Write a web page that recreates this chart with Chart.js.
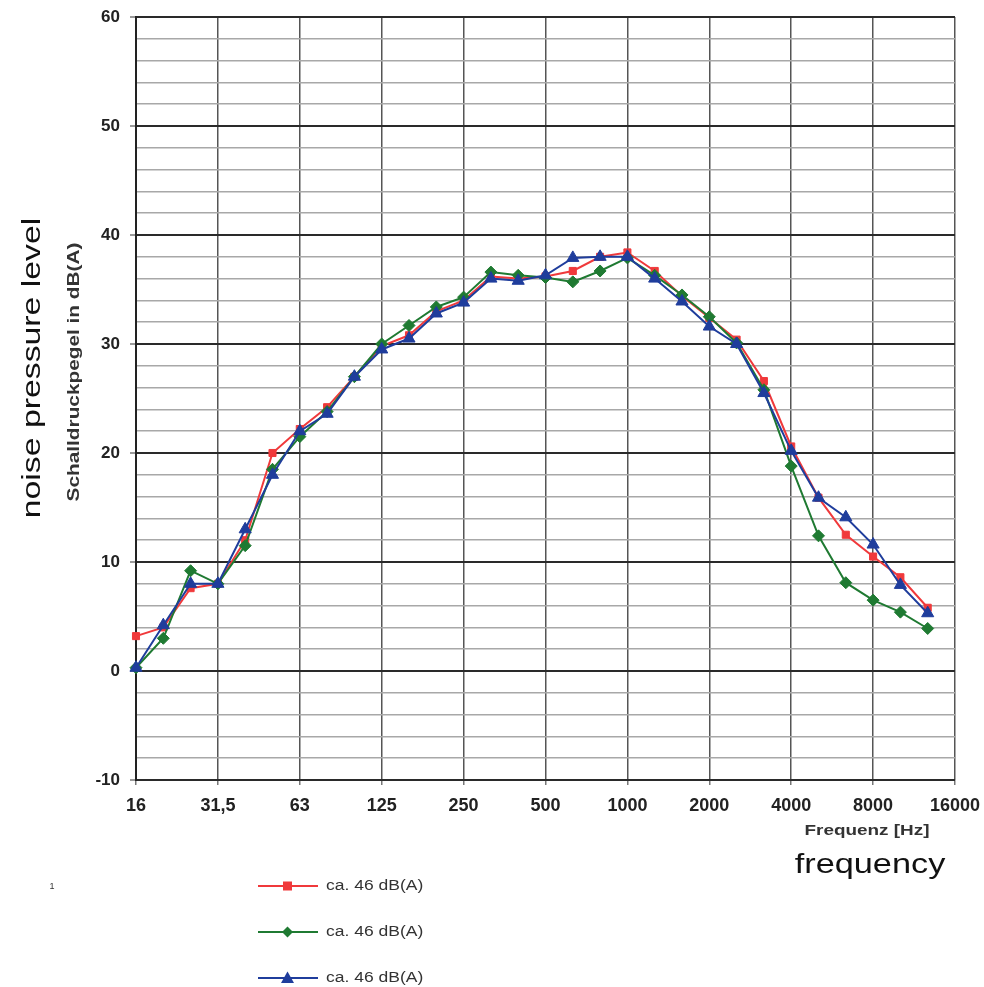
<!DOCTYPE html>
<html>
<head>
<meta charset="utf-8">
<script src="https://cdn.jsdelivr.net/npm/chart.js@4.4.1/dist/chart.umd.min.js"></script>
<style>
  html, body { margin: 0; padding: 0; background: #fff; }
  #wrap { position: relative; width: 984px; height: 987px; font-family: "Liberation Sans", Arial, sans-serif; }
  #chart { position: absolute; left: 0; top: 0; }
  .lbl { position: absolute; white-space: nowrap; color: #222; transform-origin: center center; }
  .leg { position: absolute; left: 258px; width: 180px; height: 20px; }
  .leg svg { position: absolute; left: 0; top: 0; }
  .leg span { position: absolute; left: 68px; top: 1px; font-size: 14px; color: #333; transform: scaleX(1.25); transform-origin: left center; }
</style>
</head>
<body>
<div id="wrap">
  <canvas id="chart" width="984" height="987"></canvas>

  <div class="lbl" style="left:31px; top:368px; font-size:26px; color:#111; transform:translate(-50%,-50%) rotate(-90deg) scaleX(1.3);">noise pressure level</div>
  <div class="lbl" style="left:74px; top:372px; font-size:16px; font-weight:bold; color:#333; transform:translate(-50%,-50%) rotate(-90deg) scaleX(1.3);">Schalldruckpegel in dB(A)</div>
  <div class="lbl" style="left:867px; top:830px; font-size:14px; font-weight:bold; color:#333; transform:translate(-50%,-50%) scaleX(1.35);">Frequenz [Hz]</div>
  <div class="lbl" style="left:870px; top:864px; font-size:27px; color:#111; transform:translate(-50%,-50%) scaleX(1.27);">frequency</div>
  <div class="lbl" style="left:52px; top:886px; font-size:9px; color:#333; transform:translate(-50%,-50%);">1</div>

  <div class="leg" style="top:876px;">
    <svg width="62" height="20"><line x1="0" y1="10" x2="60" y2="10" stroke="#f0393b" stroke-width="2"/><rect x="25" y="5.5" width="9" height="9" fill="#f0393b"/></svg>
    <span>ca. 46 dB(A)</span>
  </div>
  <div class="leg" style="top:922px;">
    <svg width="62" height="20"><line x1="0" y1="10" x2="60" y2="10" stroke="#1f7a32" stroke-width="2"/><polygon points="29.5,4.5 35,10 29.5,15.5 24,10" fill="#1f7a32"/></svg>
    <span>ca. 46 dB(A)</span>
  </div>
  <div class="leg" style="top:968px;">
    <svg width="62" height="20"><line x1="0" y1="10" x2="60" y2="10" stroke="#1f3d9c" stroke-width="2"/><polygon points="29.5,3.5 36,15 23,15" fill="#1f3d9c"/></svg>
    <span>ca. 46 dB(A)</span>
  </div>
</div>

<script>
// third-octave bands, 16 Hz .. 16000 Hz
const bands = ["16","20","25","31,5","40","50","63","80","100","125","160","200","250","315","400","500","630","800",
               "1000","1250","1600","2000","2500","3150","4000","5000","6300","8000","10000","12500","16000"];
// labels shown at octave positions (every third band)
const octaveLabels = ["16","31,5","63","125","250","500","1000","2000","4000","8000","16000"];

// (dB(A))
const redValues   = [3.2, 4.0, 7.6, 8.0, 12.0, 20.0, 22.2, 24.2, 27.0, 29.8, 30.8, 33.0, 34.0, 36.2, 36.0, 36.2, 36.7, 38.0,
                     38.4, 36.7, 34.4, 32.4, 30.4, 26.6, 20.6, 15.9, 12.5, 10.5, 8.6, 5.8, null];
const greenValues = [0.3, 3.0, 9.2, 8.0, 11.5, 18.5, 21.5, 23.8, 27.0, 30.0, 31.7, 33.4, 34.3, 36.6, 36.3, 36.1, 35.7, 36.7,
                     37.9, 36.3, 34.5, 32.5, 30.1, 25.8, 18.8, 12.4, 8.1, 6.5, 5.4, 3.9, null];
const blueValues  = [0.3, 4.2, 8.0, 8.0, 13.0, 18.0, 22.0, 23.6, 27.0, 29.5, 30.5, 32.8, 33.8, 36.0, 35.8, 36.3, 37.9, 38.0,
                     38.0, 36.0, 33.9, 31.6, 30.0, 25.5, 20.2, 15.9, 14.1, 11.6, 7.9, 5.3, null];

const seriesNames = ["ca. 46 dB(A)", "ca. 46 dB(A)", "ca. 46 dB(A)"];

const ctx = document.getElementById("chart").getContext("2d");

new Chart(ctx, {
    type: "line",
    data: {
        labels: bands,
        datasets: [
            {
                label: seriesNames[0],
                data: redValues,
                borderColor: "#f0393b",
                backgroundColor: "#f0393b",
                borderWidth: 2,
                pointStyle: "rect",
                pointRadius: 5,
                pointBorderWidth: 1,
                tension: 0,
                order: 2
            },
            {
                label: seriesNames[1],
                data: greenValues,
                borderColor: "#1f7a32",
                backgroundColor: "#1f7a32",
                borderWidth: 2,
                pointStyle: "rectRot",
                pointRadius: 6,
                pointBorderWidth: 1,
                tension: 0,
                order: 1
            },
            {
                label: seriesNames[2],
                data: blueValues,
                borderColor: "#1f3d9c",
                backgroundColor: "#1f3d9c",
                borderWidth: 2,
                pointStyle: "triangle",
                pointRadius: 7,
                pointBorderWidth: 1,
                tension: 0,
                order: 0
            }
        ]
    },
    options: {
        responsive: false,
        animation: false,
        layout: { padding: { left: 0, top: 17, right: 29, bottom: 0 } },
        plugins: {
            legend: { display: false },
            tooltip: { enabled: false }
        },
        scales: {
            x: {
                type: "category",
                offset: false,
                afterFit: scale => {
                    scale.height = 207;
                    scale.paddingLeft = 0;
                    scale.paddingRight = 0;
                },
                grid: {
                    color: c => (c.index % 3 === 0 ? "#555" : "rgba(0,0,0,0)"),
                    tickColor: c => (c.index % 3 === 0 ? "#777" : "rgba(0,0,0,0)"),
                    lineWidth: 1.5,
                    tickLength: 5
                },
                border: { display: false },
                ticks: {
                    autoSkip: false,
                    maxRotation: 0,
                    padding: 10,
                    color: "#222",
                    font: { family: "Liberation Sans, Arial", size: 18, weight: "bold" },
                    callback: (val, idx) => (idx % 3 === 0 ? octaveLabels[idx / 3] : "")
                }
            },
            y: {
                min: -10,
                max: 60,
                afterFit: scale => {
                    scale.width = 136;
                    scale.paddingTop = 0;
                    scale.paddingBottom = 0;
                },
                grid: {
                    color: c => (c.tick.value % 10 === 0 ? "#2a2a2a" : "#a8a8a8"),
                    tickColor: c => (c.tick.value % 10 === 0 ? "#999" : "rgba(0,0,0,0)"),
                    lineWidth: c => (c.tick.value % 10 === 0 ? 2 : 1.5),
                    tickLength: 6
                },
                border: { display: true, color: "#222", width: 2 },
                ticks: {
                    stepSize: 2,
                    autoSkip: false,
                    padding: 10,
                    color: "#222",
                    font: { family: "Liberation Sans, Arial", size: 17, weight: "bold" },
                    callback: v => (v % 10 === 0 ? String(v) : "")
                }
            }
        }
    }
});
</script>
</body>
</html>
